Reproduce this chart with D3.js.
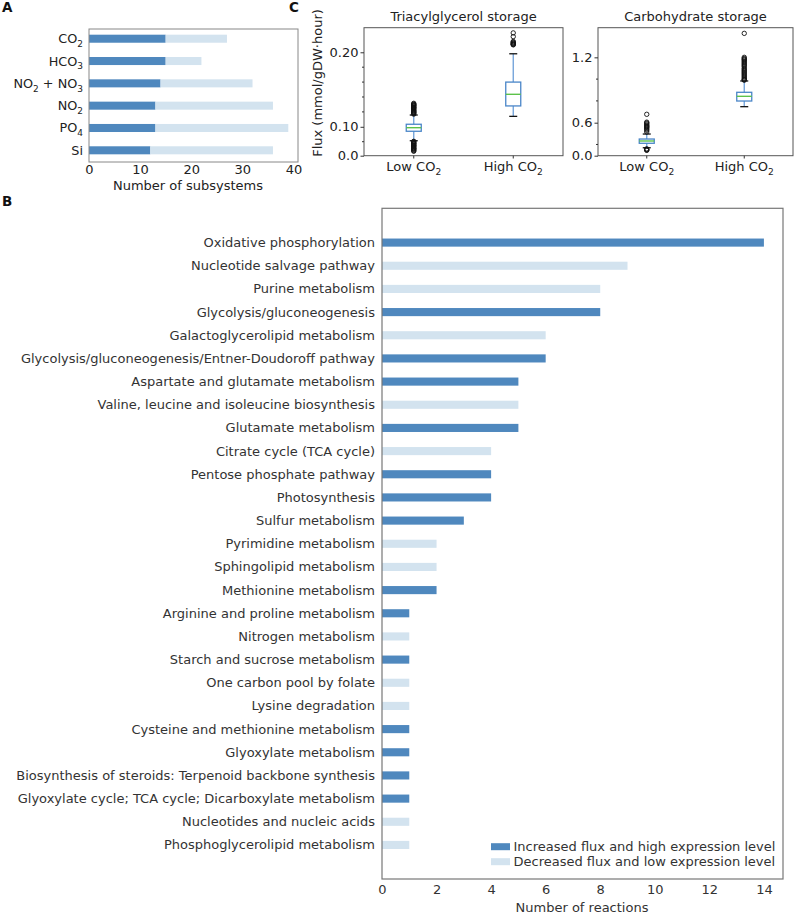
<!DOCTYPE html>
<html><head><meta charset="utf-8">
<script src="https://cdn.jsdelivr.net/npm/d3@7"></script>
<style>body{margin:0;background:#fff} svg{font-family:"DejaVu Sans",sans-serif}</style>
</head><body><svg id="c" width="796" height="914"></svg>
<script>
// ---------- Panel A data ----------
const nutrientLabels = [
  [["CO",0],["2",1]],
  [["HCO",0],["3",1]],
  [["NO",0],["2",1],[" + NO",0],["3",1]],
  [["NO",0],["2",1]],
  [["PO",0],["4",1]],
  [["Si",0]]
];
const subsIncreased = [15, 15, 14, 13, 13, 12];
const subsDecreased = [12, 7, 18, 23, 26, 24];
const subsTicks = [0, 10, 20, 30, 40];

// ---------- Panel B data ----------
const pathways = [
  "Oxidative phosphorylation","Nucleotide salvage pathway","Purine metabolism",
  "Glycolysis/gluconeogenesis","Galactoglycerolipid metabolism",
  "Glycolysis/gluconeogenesis/Entner-Doudoroff pathway","Aspartate and glutamate metabolism",
  "Valine, leucine and isoleucine biosynthesis","Glutamate metabolism","Citrate cycle (TCA cycle)",
  "Pentose phosphate pathway","Photosynthesis","Sulfur metabolism","Pyrimidine metabolism",
  "Sphingolipid metabolism","Methionine metabolism","Arginine and proline metabolism",
  "Nitrogen metabolism","Starch and sucrose metabolism","One carbon pool by folate",
  "Lysine degradation","Cysteine and methionine metabolism","Glyoxylate metabolism",
  "Biosynthesis of steroids: Terpenoid backbone synthesis",
  "Glyoxylate cycle; TCA cycle; Dicarboxylate metabolism","Nucleotides and nucleic acids",
  "Phosphoglycerolipid metabolism"
];
const reactions = [14,9,8,8,6,6,5,5,5,4,4,4,3,2,2,2,1,1,1,1,1,1,1,1,1,1,1];
const increased = [1,0,0,1,0,1,1,0,1,0,1,1,1,0,0,1,1,0,1,0,0,1,1,1,1,0,0];
const reactionTicks = [0,2,4,6,8,10,12,14];
const legendLabels = ["Increased flux and high expression level","Decreased flux and low expression level"];

// ---------- Panel C data ----------
const conditions = [[["Low CO",0],["2",1]],[["High CO",0],["2",1]]];
// [whiskerLow, q1, median, q3, whiskerHigh]
const tagBoxes = [[0.0813, 0.0940, 0.0988, 0.1034, 0.1158],[0.114, 0.128, 0.1436, 0.160, 0.198]];
const tagOutliers = [
  [0.1315,0.1305,0.130,0.1292,0.1285,0.128,0.127,0.1262,0.1255,0.125,0.124,0.123,0.122,0.1212,0.1205,0.1195,0.119,0.118,0.117,
   0.0805,0.080,0.079,0.0782,0.0775,0.077,0.076,0.0752,0.0745,0.074,0.073,0.072,0.0712,0.0705,0.070,0.069,0.068,0.0672],
  [0.226,0.221,0.2145,0.2135,0.2125,0.212,0.211,0.2105,0.210]
];
const carbBoxes = [[0.37, 0.411, 0.432, 0.450, 0.496],[0.747, 0.799, 0.842, 0.879, 0.983]];
const carbOutliers = [
  [0.677,0.605,0.598,0.59,0.58,0.572,0.565,0.558,0.55,0.54,0.53,0.515,0.36,0.355,0.35,0.346],
  [1.42,1.20,1.19,1.182,1.175,1.165,1.155,1.145,1.135,1.125,1.115,1.10,1.09,1.08,1.07,1.06,1.05,1.04,1.03,1.02,1.01,1.00,0.995,0.99]
];
const tagTicks = [0.0612, 0.10, 0.20], tagTickLabels = ["0.0","0.10","0.20"], tagMinor = [0.08,0.12,0.14,0.16,0.18];
const carbTicks = [0.297, 0.6, 1.2], carbTickLabels = ["0.0","0.6","1.2"], carbMinor = [0.4,0.8,1.0];

// ---------- drawing ----------
const DARK = "#4f88be", LIGHT = "#d3e3ef";
const svg = d3.select("#c");

function richText(sel, parts, size) {
  parts.forEach(([t, sub], i) => {
    const ts = sel.append("tspan").text(t);
    if (sub) ts.attr("font-size", size * 0.7).attr("dy", size * 0.3);
    else if (i > 0 && parts[i-1][1]) ts.attr("dy", -size * 0.3);
  });
}

// Panel labels
[["A",2,12],["B",2,206],["C",289,12]].forEach(([t,x,y]) =>
  svg.append("text").attr("x",x).attr("y",y).attr("font-weight","bold").attr("font-size",13.5).attr("fill","#111").text(t));

// ---- Panel A ----
{
  const x = d3.scaleLinear().domain([0, 40.9]).range([89, 298]);
  const y = d3.scaleLinear().domain([-0.435, 5.524]).range([29, 162]);
  const g = svg.append("g");
  const h = y(0.18) - y(-0.18);
  g.selectAll(".inc").data(subsIncreased).join("rect")
    .attr("x", x(0)).attr("y", (d,i) => y(i) - h/2).attr("width", d => x(d) - x(0)).attr("height", h).attr("fill", DARK);
  g.selectAll(".dec").data(subsDecreased).join("rect")
    .attr("x", (d,i) => x(subsIncreased[i])).attr("y", (d,i) => y(i) - h/2)
    .attr("width", (d,i) => x(subsIncreased[i] + d) - x(subsIncreased[i])).attr("height", h).attr("fill", LIGHT);
  g.append("rect").attr("x",89).attr("y",29).attr("width",209).attr("height",133).attr("fill","none").attr("stroke","#888").attr("stroke-width",1);
  const ax = g.append("g").attr("transform","translate(0,162)").call(d3.axisBottom(x).tickValues(subsTicks).tickSize(0).tickPadding(2.5));
  ax.select(".domain").remove();
  ax.selectAll("text").attr("font-size",13).attr("fill","#222").attr("font-family","DejaVu Sans");
  nutrientLabels.forEach((parts,i) => {
    const t = g.append("text").attr("x", 83).attr("y", y(i) + 4.5).attr("text-anchor","end").attr("font-size",12.8).attr("fill","#222");
    richText(t, parts, 12.8);
  });
  g.append("text").attr("x",188).attr("y",190).attr("text-anchor","middle").attr("font-size",13).attr("fill","#222").text("Number of subsystems");
}

// ---- Panel C ----
function boxChart(x0, x1, domain, boxes, outliers, ticks, tickLabels, minor, title, ylabel) {
  const x = d3.scaleLinear().domain([0.5, 2.5]).range([x0, x1]);
  const y = d3.scaleLinear().domain(domain).range([155.7, 27.7]);
  const g = svg.append("g");
  const bw = 15, cw = 8;
  boxes.forEach((b, i) => {
    const cx = x(i + 1);
    g.append("line").attr("x1",cx).attr("x2",cx).attr("y1",y(b[0])).attr("y2",y(b[1])).attr("stroke","#6c9fd8").attr("stroke-width",1.3);
    g.append("line").attr("x1",cx).attr("x2",cx).attr("y1",y(b[3])).attr("y2",y(b[4])).attr("stroke","#6c9fd8").attr("stroke-width",1.3);
    g.append("line").attr("x1",cx-cw/2).attr("x2",cx+cw/2).attr("y1",y(b[0])).attr("y2",y(b[0])).attr("stroke","#111").attr("stroke-width",1.3);
    g.append("line").attr("x1",cx-cw/2).attr("x2",cx+cw/2).attr("y1",y(b[4])).attr("y2",y(b[4])).attr("stroke","#111").attr("stroke-width",1.3);
    g.append("rect").attr("x",cx-bw/2).attr("y",y(b[3])).attr("width",bw).attr("height",y(b[1])-y(b[3]))
      .attr("fill","none").attr("stroke","#4a86c8").attr("stroke-width",1.3);
    g.append("line").attr("x1",cx-bw/2).attr("x2",cx+bw/2).attr("y1",y(b[2])).attr("y2",y(b[2])).attr("stroke","#5cc24a").attr("stroke-width",1.4);
    g.selectAll(null).data(outliers[i]).join("circle").attr("cx",cx).attr("cy",d=>y(d)).attr("r",2.2)
      .attr("fill","none").attr("stroke","#111").attr("stroke-width",0.9);
  });
  g.append("rect").attr("x",x0).attr("y",27.7).attr("width",x1-x0).attr("height",128).attr("fill","none").attr("stroke","#555").attr("stroke-width",1);
  const ay = g.append("g").attr("transform",`translate(${x0},0)`)
    .call(d3.axisLeft(y).tickValues(ticks).tickFormat((d,i)=>tickLabels[i]).tickSize(3.5).tickPadding(2));
  ay.select(".domain").remove();
  ay.selectAll("line").attr("stroke","#333");
  ay.selectAll("text").attr("font-size",13).attr("fill","#222").attr("font-family","DejaVu Sans");
  g.selectAll(null).data(minor).join("line").attr("x1",x0-2).attr("x2",x0).attr("y1",d=>y(d)).attr("y2",d=>y(d)).attr("stroke","#333");
  conditions.forEach((parts,i) => {
    const cx = x(i+1);
    g.append("line").attr("x1",cx).attr("x2",cx).attr("y1",155.7).attr("y2",158.5).attr("stroke","#333");
    const t = g.append("text").attr("x",cx).attr("y",171).attr("text-anchor","middle").attr("font-size",13).attr("fill","#222");
    richText(t, parts, 13);
  });
  g.append("text").attr("x",(x0+x1)/2).attr("y",21).attr("text-anchor","middle").attr("font-size",13).attr("fill","#222").text(title);
  if (ylabel) g.append("text").attr("transform","translate(322,83) rotate(-90)").attr("text-anchor","middle")
    .attr("font-size",13).attr("fill","#222").text(ylabel);
}
boxChart(364, 563, [0.0612, 0.233], tagBoxes, tagOutliers, tagTicks, tagTickLabels, tagMinor, "Triacylglycerol storage", "Flux (mmol/gDW·hour)");
boxChart(598, 793, [0.297, 1.472], carbBoxes, carbOutliers, carbTicks, carbTickLabels, carbMinor, "Carbohydrate storage", null);

// ---- Panel B ----
{
  const FS = 13;
  const x = d3.scaleLinear().domain([0, 14.7]).range([382, 783]);
  const y = d3.scaleLinear().domain([-1.48, 27.47]).range([208.3, 879]);
  const g = svg.append("g");
  const h = y(0.175) - y(-0.175);
  g.selectAll(".b").data(reactions).join("rect")
    .attr("x", x(0)).attr("y", (d,i) => y(i) - h/2).attr("width", d => x(d) - x(0)).attr("height", h)
    .attr("fill", (d,i) => increased[i] ? DARK : LIGHT);
  g.append("rect").attr("x",382).attr("y",208.3).attr("width",401).attr("height",670.7).attr("fill","none").attr("stroke","#777").attr("stroke-width",1.2);
  pathways.forEach((p,i) => g.append("text").attr("x",375).attr("y",y(i)+4.5).attr("text-anchor","end")
    .attr("font-size",FS).attr("fill","#333").text(p));
  const ax = g.append("g").attr("transform","translate(0,879)").call(d3.axisBottom(x).tickValues(reactionTicks).tickSize(0).tickPadding(6));
  ax.select(".domain").remove();
  ax.selectAll("text").attr("font-size",FS).attr("fill","#333").attr("font-family","DejaVu Sans");
  g.append("text").attr("x",582).attr("y",912).attr("text-anchor","middle").attr("font-size",FS).attr("fill","#333").text("Number of reactions");
  legendLabels.forEach((t,i) => {
    const cy = 846.7 + i*15;
    g.append("rect").attr("x",491).attr("y",cy-3.5).attr("width",19).attr("height",7).attr("fill", i===0?DARK:LIGHT);
    g.append("text").attr("x",513.5).attr("y",cy+4.5).attr("font-size",FS).attr("fill","#333").text(t);
  });
}
</script></body></html>
